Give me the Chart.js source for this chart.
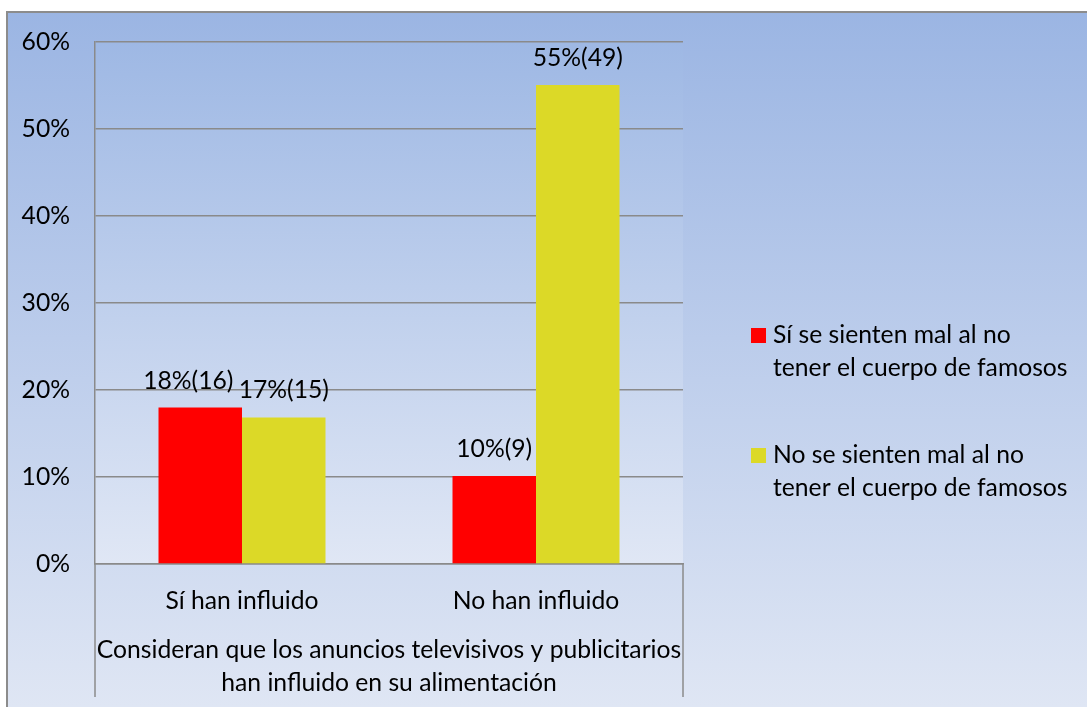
<!DOCTYPE html>
<html>
<head>
<meta charset="utf-8">
<script src="https://cdn.jsdelivr.net/npm/chart.js@4/dist/chart.umd.min.js"></script>
<style>
  html, body { margin: 0; padding: 0; background: #fff; }
  #wrap { width: 1087px; height: 707px; }
</style>
</head>
<body>
<div id="wrap"><canvas id="c" width="1087" height="707"></canvas></div>
<script>
// ---- data ----
const categories = ['Sí han influido', 'No han influido'];
const seriesNames = [
  ['Sí se sienten mal al no', 'tener el cuerpo de famosos'],
  ['No se sienten mal al no', 'tener el cuerpo de famosos']
];
const siValues = [17.98, 10.11];
const noValues = [16.85, 55.06];
const siCounts = [16, 9];
const noCounts = [15, 49];
const yTicks = [0, 10, 20, 30, 40, 50, 60];
const axisTitle = ['Consideran que los anuncios televisivos y publicitarios', 'han influido en su alimentación'];

const FONT = 'Lato, "Open Sans", sans-serif';
const FS = 24.7;
const GRID = '#8a8a8a';

const bgPlugin = {
  id: 'bg',
  beforeDraw(chart) {
    const ctx = chart.ctx, W = chart.width, H = chart.height, a = chart.chartArea;
    ctx.save();
    ctx.fillStyle = '#ffffff';
    ctx.fillRect(0, 0, W, H);
    const g = ctx.createLinearGradient(0, 11, 0, H);
    g.addColorStop(0, '#9bb5e3');
    g.addColorStop(1, '#dfe6f4');
    ctx.fillStyle = g;
    ctx.fillRect(6, 11, W, H);
    ctx.strokeStyle = '#8c8c8c';
    ctx.lineWidth = 2;
    ctx.beginPath();
    ctx.moveTo(7, H + 5); ctx.lineTo(7, 12); ctx.lineTo(W + 5, 12);
    ctx.stroke();
    const g2 = ctx.createLinearGradient(0, a.top, 0, a.bottom);
    g2.addColorStop(0, '#9eb8e4');
    g2.addColorStop(1, '#e0e7f5');
    ctx.fillStyle = g2;
    ctx.fillRect(a.left, a.top, a.right - a.left, a.bottom - a.top);
    ctx.restore();
  },
  afterDraw(chart) {
    const ctx = chart.ctx, a = chart.chartArea;
    ctx.save();
    // extended category-axis separators
    ctx.strokeStyle = GRID;
    ctx.lineWidth = 1.5;
    ctx.beginPath();
    ctx.moveTo(a.left, a.bottom); ctx.lineTo(a.left, 697);
    ctx.moveTo(a.right, a.bottom); ctx.lineTo(a.right, 697);
    ctx.stroke();
    // axis title
    ctx.fillStyle = '#000';
    ctx.font = FS + 'px ' + FONT;
    ctx.textAlign = 'center';
    ctx.textBaseline = 'middle';
    const cx = (a.left + a.right) / 2;
    axisTitle.forEach((t, i) => ctx.fillText(t, cx, a.bottom + 86 + i * 33));
    // data labels
    const counts = [siCounts, noCounts];
    const labelShift = [[-12, 0], [0, 0]];
    chart.data.datasets.forEach((ds, di) => {
      const meta = chart.getDatasetMeta(di);
      meta.data.forEach((bar, i) => {
        const txt = Math.round(ds.data[i]) + '%(' + counts[di][i] + ')';
        ctx.fillText(txt, bar.x + labelShift[di][i], bar.y - 27);
      });
    });
    // legend
    const lx = a.right + 68;
    const ly = [a.top + 293, a.top + 413];
    chart.data.datasets.forEach((ds, di) => {
      ctx.fillStyle = ds.backgroundColor;
      ctx.fillRect(lx, ly[di] - 7, 15, 15);
      ctx.fillStyle = '#000';
      ctx.textAlign = 'left';
      seriesNames[di].forEach((t, k) => ctx.fillText(t, lx + 22, ly[di] + k * 33));
    });
    ctx.restore();
  }
};

new Chart(document.getElementById('c'), {
  type: 'bar',
  data: {
    labels: categories,
    datasets: [
      { label: seriesNames[0].join(' '), data: siValues, backgroundColor: '#ff0000', borderWidth: 0 },
      { label: seriesNames[1].join(' '), data: noValues, backgroundColor: '#dcd927', borderWidth: 0 }
    ]
  },
  options: {
    responsive: false,
    animation: false,
    devicePixelRatio: 1,
    layout: { padding: { left: 0, top: 42, right: 404, bottom: 0 } },
    plugins: { legend: { display: false }, tooltip: { enabled: false } },
    datasets: { bar: { categoryPercentage: 0.568, barPercentage: 1.0 } },
    scales: {
      x: {
        grid: { display: false, drawTicks: false },
        border: { display: true, color: GRID, width: 1.5 },
        ticks: { color: '#000', font: { family: FONT, size: FS }, padding: 22 },
        afterFit(s) { s.height = 143; }
      },
      y: {
        min: 0, max: 60,
        afterBuildTicks(s) { s.ticks = yTicks.map(v => ({ value: v })); },
        grid: { color: GRID, lineWidth: 1.5, drawTicks: false },
        border: { display: true, color: GRID, width: 1.5 },
        ticks: { color: '#000', font: { family: FONT, size: FS }, padding: 25, callback: v => v + '%' },
        afterFit(s) { s.width = 95; }
      }
    }
  },
  plugins: [bgPlugin]
});
</script>
</body>
</html>
